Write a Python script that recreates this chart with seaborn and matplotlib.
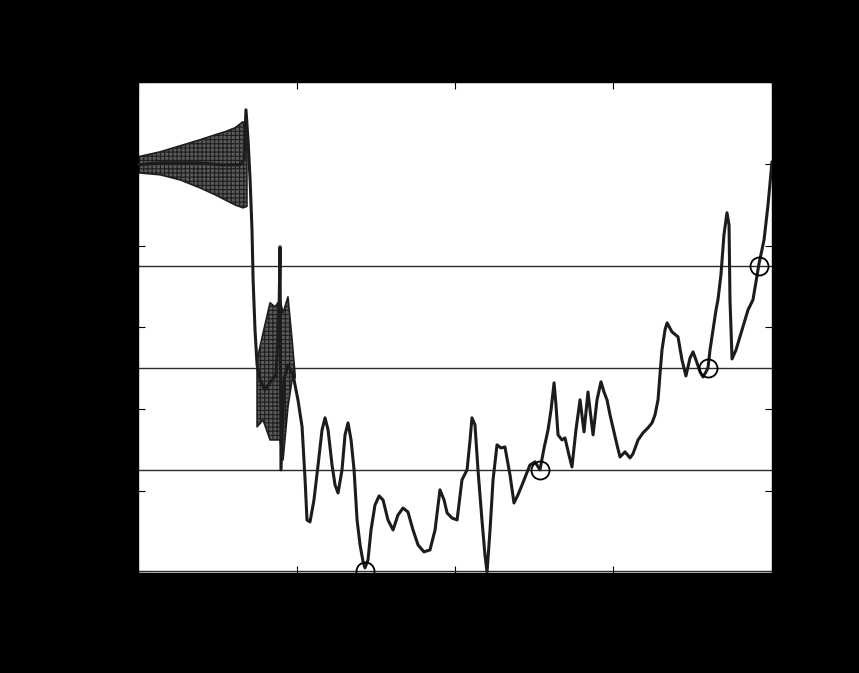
import matplotlib
matplotlib.use("Agg")
import matplotlib.pyplot as plt
import seaborn as sns
import pandas as pd
from matplotlib.ticker import ScalarFormatter

# ---- data (x in mm, y in units of 1e5) ----
x_mm = [-4.000, -3.861, -3.735, -3.609, -3.483, -3.356, -3.331, -3.319, -3.306, -3.293,
        -3.281, -3.274, -3.262, -3.249, -3.230, -3.199, -3.155, -3.129, -3.110, -3.104,
        -3.098, -3.079, -3.054, -3.022, -2.991, -2.965, -2.946, -2.934, -2.915, -2.890,
        -2.864, -2.839, -2.820, -2.801, -2.776, -2.757, -2.738, -2.713, -2.694, -2.675,
        -2.656, -2.637, -2.618, -2.599, -2.580, -2.568, -2.549, -2.530, -2.505, -2.479,
        -2.454, -2.423, -2.391, -2.360, -2.328, -2.297, -2.265, -2.233, -2.196, -2.158,
        -2.126, -2.095, -2.069, -2.050, -2.019, -1.987, -1.956, -1.924, -1.905, -1.893,
        -1.874, -1.855, -1.830, -1.811, -1.798, -1.779, -1.760, -1.735, -1.710, -1.685,
        -1.653, -1.628, -1.603, -1.577, -1.552, -1.527, -1.495, -1.464, -1.438, -1.413,
        -1.394, -1.375, -1.363, -1.350, -1.325, -1.306, -1.281, -1.262, -1.237, -1.211,
        -1.186, -1.161, -1.148, -1.129, -1.104, -1.079, -1.060, -1.041, -1.022, -1.003,
        -0.978, -0.959, -0.927, -0.896, -0.877, -0.845, -0.814, -0.782, -0.757, -0.738,
        -0.719, -0.707, -0.694, -0.675, -0.662, -0.631, -0.593, -0.568, -0.543, -0.517,
        -0.498, -0.473, -0.454, -0.435, -0.416, -0.404, -0.391, -0.372, -0.353, -0.341,
        -0.322, -0.303, -0.284, -0.271, -0.265, -0.252, -0.227, -0.189, -0.151, -0.120,
        -0.082, -0.050, -0.025, 0.000]
y_e5 = [1.994, 2.006, 2.006, 2.006, 1.994, 1.994, 2.024, 2.330, 2.147, 1.902,
        1.597, 1.291, 0.985, 0.772, 0.680, 0.619, 0.680, 0.710, 1.108, 1.493,
        0.130, 0.680, 0.772, 0.710, 0.558, 0.393, 0.069, -0.176, -0.188, -0.054,
        0.160, 0.374, 0.448, 0.374, 0.160, 0.038, -0.011, 0.130, 0.344, 0.417,
        0.313, 0.130, -0.176, -0.329, -0.432, -0.469, -0.420, -0.237, -0.085, -0.029,
        -0.054, -0.176, -0.237, -0.146, -0.103, -0.127, -0.237, -0.329, -0.371, -0.359,
        -0.237, 0.008, -0.054, -0.133, -0.164, -0.176, 0.069, 0.130, 0.313, 0.448,
        0.405, 0.130, -0.176, -0.390, -0.494, -0.237, 0.069, 0.283, 0.264, 0.270,
        0.099, -0.072, -0.023, 0.038, 0.099, 0.160, 0.179, 0.130, 0.264, 0.374,
        0.497, 0.662, 0.527, 0.344, 0.313, 0.325, 0.221, 0.148, 0.374, 0.558,
        0.362, 0.606, 0.497, 0.344, 0.558, 0.668, 0.606, 0.558, 0.466, 0.387,
        0.283, 0.209, 0.240, 0.203, 0.228, 0.313, 0.356, 0.387, 0.417, 0.466,
        0.558, 0.710, 0.863, 0.985, 1.028, 0.973, 0.943, 0.802, 0.704, 0.814,
        0.851, 0.784, 0.729, 0.698, 0.729, 0.753, 0.863, 0.985, 1.108, 1.169,
        1.322, 1.566, 1.701, 1.627, 1.169, 0.808, 0.863, 0.985, 1.108, 1.169,
        1.389, 1.536, 1.749, 2.012]

# oscillation bands (envelopes)
band1_x = [-4.000, -3.861, -3.735, -3.609, -3.514, -3.451, -3.388, -3.338, -3.313]
band1_hi = [2.043, 2.073, 2.110, 2.147, 2.177, 2.196, 2.220, 2.257, 2.200]
band1_lo = [1.945, 1.933, 1.902, 1.853, 1.811, 1.780, 1.749, 1.731, 1.740]

band2_x = [-3.249, -3.211, -3.167, -3.136, -3.104, -3.085, -3.054, -3.028, -3.009]
band2_hi = [0.802, 0.967, 1.151, 1.126, 1.169, 1.089, 1.187, 0.924, 0.710]
band2_lo = [0.393, 0.435, 0.313, 0.313, 0.313, 0.191, 0.515, 0.680, 0.692]

# reference levels and marked points
levels_e5 = [1.377, 0.753, 0.130, -0.488]
mark_x_mm = [-2.568, -1.464, -0.404, -0.082]
mark_y_e5 = [-0.488, 0.130, 0.753, 1.377]

x_ticks_m = [-0.004, -0.003, -0.002, -0.001, 0.0]
x_tick_labels = ["-0.004", "-0.003", "-0.002", "-0.001", "0"]
y_ticks_e5 = [-0.5, 0, 0.5, 1, 1.5, 2, 2.5]

sns.set_style("white")
plt.rcParams['font.family'] = ['DejaVu Sans']
plt.rcParams['hatch.color'] = '#1a1a1a'
plt.rcParams['hatch.linewidth'] = 0.8

fig = plt.figure(figsize=(8.59, 6.73), dpi=100, facecolor="black")
ax = fig.add_axes([0.1607, 0.1486, 0.738, 0.7296])
ax.set_facecolor("white")

df = pd.DataFrame({"x": [v * 1e-3 for v in x_mm], "y": [v * 1e5 for v in y_e5]})

for lv in levels_e5:
    ax.axhline(lv * 1e5, color="#2b2b2b", lw=1.0, zorder=1)

for bx, bh, bl in ((band1_x, band1_hi, band1_lo), (band2_x, band2_hi, band2_lo)):
    ax.fill_between([v * 1e-3 for v in bx], [v * 1e5 for v in bh],
                    [v * 1e5 for v in bl], facecolor="#5a5a5a", hatch="++++",
                    edgecolor="#1e1e1e", lw=1.2, zorder=2)

sns.lineplot(data=df, x="x", y="y", ax=ax, color="#1c1c1c", lw=2.2,
             estimator=None, sort=False, zorder=3)

ax.plot([v * 1e-3 for v in mark_x_mm], [v * 1e5 for v in mark_y_e5], "o",
        mfc="none", mec="black", ms=13, mew=1.3, zorder=4)

ax.set_xlim(-0.004, 0.0)
ax.set_ylim(-0.5e5, 2.5e5)
ax.set_xticks(x_ticks_m)
ax.set_xticklabels(x_tick_labels)
ax.set_yticks([v * 1e5 for v in y_ticks_e5])
fmt = ScalarFormatter(useMathText=True)
fmt.set_powerlimits((0, 0))
ax.yaxis.set_major_formatter(fmt)
ax.tick_params(direction="in", length=5, colors="black", labelsize=14,
               top=True, right=True, bottom=True, left=True)
ax.tick_params(axis="x", pad=14)
ax.tick_params(axis="y", pad=8)
ax.yaxis.get_offset_text().set_fontsize(14)
ax.yaxis.get_offset_text().set_color("black")

ax.set_xlabel("Displacement of piston (m)", fontsize=14, color="black")
ax.set_ylabel("Force (N)", fontsize=14, color="black")
for s in ax.spines.values():
    s.set_color("black")
    s.set_linewidth(1.0)

fig.savefig("out.png", dpi=100, facecolor="black")
